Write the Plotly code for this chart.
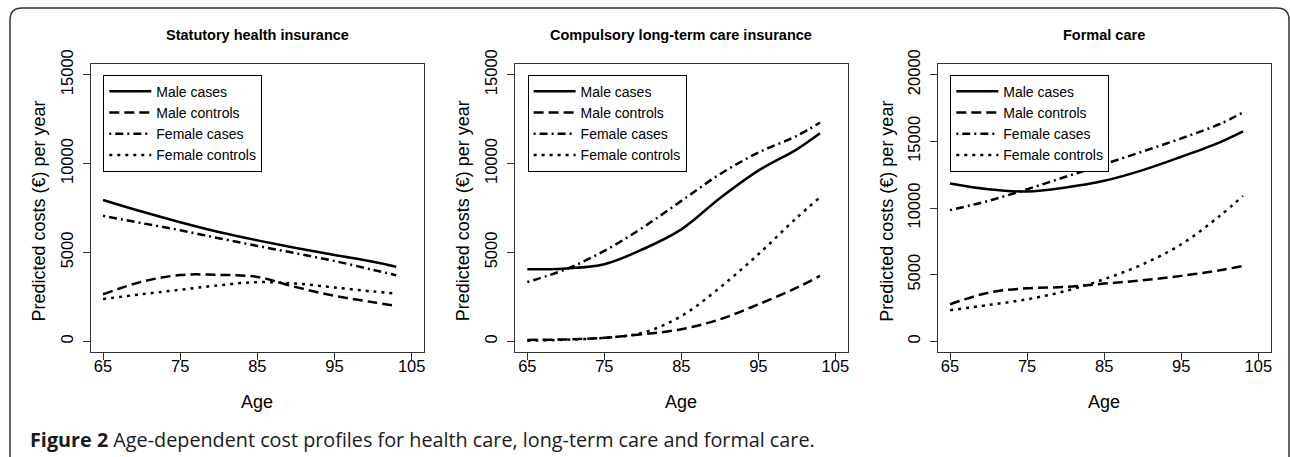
import plotly.graph_objects as go

# ---------------- data ----------------
ages = [65, 70, 75, 80, 85, 90, 95, 100, 103]
series_names = ["Male cases", "Male controls", "Female cases", "Female controls"]
panel_titles = ["Statutory health insurance",
                "Compulsory long-term care insurance",
                "Formal care"]
x_ticks = [65, 75, 85, 95, 105]
y_ticks_insurance = [0, 5000, 10000, 15000]
y_ticks_formal = [0, 5000, 10000, 15000, 20000]

# Statutory health insurance
shi_male_cases = [7950, 7300, 6700, 6150, 5680, 5250, 4860, 4480, 4200]
shi_male_controls = [2650, 3350, 3730, 3740, 3620, 3050, 2560, 2200, 1990]
shi_female_cases = [7060, 6650, 6250, 5800, 5370, 4950, 4520, 4020, 3720]
shi_female_controls = [2380, 2650, 2900, 3150, 3330, 3250, 3030, 2800, 2690]

# Compulsory long-term care insurance
ltc_male_cases = [4050, 4100, 4340, 5180, 6300, 8050, 9600, 10800, 11700]
ltc_male_controls = [80, 110, 200, 400, 680, 1240, 2080, 3020, 3680]
ltc_female_cases = [3340, 4050, 5090, 6400, 7900, 9400, 10620, 11560, 12310]
ltc_female_controls = [30, 90, 200, 480, 1420, 3020, 4900, 6960, 8100]

# Formal care
fc_male_cases = [11840, 11410, 11240, 11540, 12040, 12840, 13840, 14920, 15740]
fc_male_controls = [2780, 3650, 3980, 4080, 4330, 4580, 4910, 5330, 5660]
fc_female_cases = [9840, 10540, 11410, 12340, 13290, 14240, 15220, 16300, 17170]
fc_female_controls = [2330, 2730, 3150, 3780, 4660, 5780, 7280, 9410, 10910]

panels = [
    [shi_male_cases, shi_male_controls, shi_female_cases, shi_female_controls],
    [ltc_male_cases, ltc_male_controls, ltc_female_cases, ltc_female_controls],
    [fc_male_cases, fc_male_controls, fc_female_cases, fc_female_controls],
]

# ---------------- layout helpers ----------------
W, H = 1290, 457


def px(x):
    return x / W


def py(y):
    return 1 - y / H


dashes = ["solid", "10px,5px", "2px,4px,8px,4px", "3px,5px"]
AXF = "Liberation Sans, Arial, sans-serif"

# plot boxes in pixels: (left, right)
boxes = [(90.7, 424.0), (515.0, 847.7), (937.7, 1270.7)]
box_top, box_bottom = 64.0, 352.0

fig = go.Figure()
legend_ids = ["legend", "legend2", "legend3"]
for p, series in enumerate(panels):
    xa = "x" if p == 0 else f"x{p+1}"
    ya = "y" if p == 0 else f"y{p+1}"
    for name, vals, dash in zip(series_names, series, dashes):
        fig.add_trace(go.Scatter(
            x=ages, y=vals, name=name, mode="lines",
            line=dict(color="black", width=2.5, dash=dash, shape="spline", smoothing=1.0),
            xaxis=xa, yaxis=ya, legend=legend_ids[p], hoverinfo="skip",
        ))

layout = dict(
    width=W, height=H,
    margin=dict(l=0, r=0, t=0, b=0, autoexpand=False),
    paper_bgcolor="white", plot_bgcolor="white",
    showlegend=True,
    font=dict(family=AXF, color="black"),
)

for p, (l, r) in enumerate(boxes):
    sfx = "" if p == 0 else str(p + 1)
    yt = y_ticks_formal if p == 2 else y_ticks_insurance
    ymax = yt[-1]
    pad = ymax * 0.04
    layout["xaxis" + sfx] = dict(
        domain=[px(l), px(r)], anchor="y" + sfx,
        range=[65 - 1.6, 105 + 1.6], tickvals=x_ticks,
        ticktext=[str(v) for v in x_ticks],
        showline=True, mirror=True, linecolor="#333", linewidth=1,
        ticks="outside", ticklen=7, tickwidth=1, tickcolor="#333",
        showgrid=False, zeroline=False, automargin=False,
        ticklabelstandoff=-8,
        tickfont=dict(size=16.5, family=AXF, color="black"),
    )
    layout["yaxis" + sfx] = dict(
        domain=[py(box_bottom), py(box_top)], anchor="x" + sfx,
        range=[-pad, ymax + pad], tickvals=yt,
        ticktext=[str(v) for v in yt],
        showline=True, mirror=True, linecolor="#333", linewidth=1,
        ticks="outside", ticklen=7, tickwidth=1, tickcolor="#333",
        showgrid=False, zeroline=False, tickangle=-90, automargin=False,
        ticklabelstandoff=3,
        tickfont=dict(size=16.5, family=AXF, color="black"),
    )
    layout[legend_ids[p]] = dict(
        x=px(l + 12.6), y=py(74.7), xanchor="left", yanchor="top",
        bgcolor="white", bordercolor="black", borderwidth=1,
        font=dict(size=14, family=AXF, color="black"),
        tracegroupgap=0, itemclick=False, itemdoubleclick=False,
        itemwidth=42,
    )

annotations = []
title_cx = [257.5, 681.0, 1104.0]
ytitle_x = [38.5, 463.3, 886.7]
for p, (l, r) in enumerate(boxes):
    annotations.append(dict(
        text=f"<b>{panel_titles[p]}</b>", x=px(title_cx[p]), y=py(35),
        xref="paper", yref="paper", showarrow=False,
        xanchor="center", yanchor="middle",
        font=dict(size=14.5, family=AXF, color="black"),
    ))
    annotations.append(dict(
        text="Age", x=px((l + r) / 2), y=py(401.7),
        xref="paper", yref="paper", showarrow=False,
        xanchor="center", yanchor="middle",
        font=dict(size=18, family=AXF, color="black"),
    ))
    annotations.append(dict(
        text="Predicted costs (€) per year", x=px(ytitle_x[p]), y=py(211),
        xref="paper", yref="paper", showarrow=False, textangle=-90,
        xanchor="center", yanchor="middle",
        font=dict(size=18, family=AXF, color="black"),
    ))

annotations.append(dict(
    text="<b>Figure 2</b> Age-dependent cost profiles for health care, long-term care and formal care.",
    x=px(28), y=py(439), xref="paper", yref="paper", showarrow=False,
    xanchor="left", yanchor="middle",
    font=dict(size=19.8, family="Open Sans, Noto Sans, sans-serif", color="#1a1a1a"),
))
layout["annotations"] = annotations

frame_path = (f"M {px(10)},{py(470)} L {px(10)},{py(20)} Q {px(10)},{py(8)} {px(22)},{py(8)} "
              f"L {px(1277)},{py(8)} Q {px(1289)},{py(8)} {px(1289)},{py(20)} L {px(1289)},{py(470)}")
layout["shapes"] = [dict(type="path", path=frame_path, xref="paper", yref="paper",
                         line=dict(color="#333", width=1.5))]

fig.update_layout(**layout)
fig.write_html("out.html",
               config={"displayModeBar": False},
               post_script="document.body.style.margin='0';document.body.style.overflow='hidden';")
